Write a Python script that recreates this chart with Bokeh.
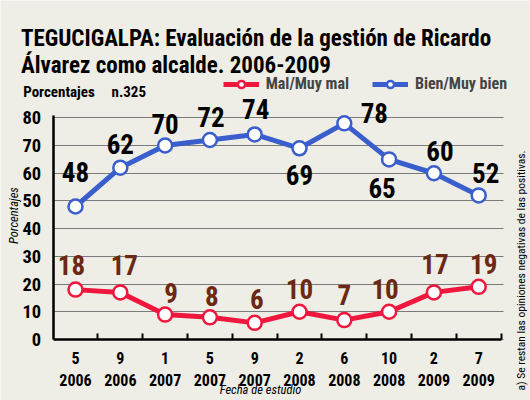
import math
from bokeh.plotting import figure
from bokeh.models import (ColumnDataSource, FixedTicker, Label, LabelSet, Legend,
                          LegendItem, Range1d)
from bokeh.core.properties import value
from bokeh.embed import file_html
from bokeh.resources import INLINE

# ---------------- data ----------------
fechas = ["5\n2006", "9\n2006", "1\n2007", "5\n2007", "9\n2007",
          "2\n2008", "6\n2008", "10\n2008", "2\n2009", "7\n2009"]
bien = [48, 62, 70, 72, 74, 69, 78, 65, 60, 52]
mal = [18, 17, 9, 8, 6, 10, 7, 10, 17, 19]
y_ticks = [0, 10, 20, 30, 40, 50, 60, 70, 80]

# label placement (screen px offsets, style only)
bien_dx = [0, 0, 0, 1, 1, 0, 30, -7, 6, 7]
bien_dy = [34, 24, 22, 23, 25, -27, 10, -29, 22, 22]
mal_dx = [-4, 4, 6, 2, 2, 0, 0, -4, 1, 5]
mal_dy = [25, 27, 22, 21, 24, 23, 25, 23, 28, 23]

BG = "#eeede6"
BLUE = "#3a5fcd"
RED = "#f0173f"
BROWN = "#6b2812"
FONT = "Roboto Condensed"

W, H = 530, 400
X_PX, X0 = 44.8, 75.0      # px per category, canvas x of first category
Y_PX, Y0 = 2.771, 61.0     # px per percent, canvas px of 0 from bottom
x_lo, x_hi = -0.5, 9.5     # extent of the drawn chart area

xs = list(range(len(fechas)))

p = figure(width=W, height=H,
           x_range=Range1d(-X0 / X_PX, (W - X0) / X_PX),
           y_range=Range1d(-Y0 / Y_PX, (H - Y0) / Y_PX),
           output_backend="svg", toolbar_location=None, min_border=0,
           background_fill_color=BG, border_fill_color=BG, outline_line_color=None)

# axes placed inside the (full-canvas) frame
p.xaxis.fixed_location = 0
p.xaxis.bounds = (x_lo, x_hi)
p.xaxis.ticker = FixedTicker(ticks=xs, minor_ticks=[i + 0.5 for i in xs])
p.xaxis.major_label_overrides = {i: f for i, f in zip(xs, fechas)}
p.xaxis.major_tick_line_color = None
p.xaxis.minor_tick_in = 6
p.xaxis.minor_tick_out = 0
p.xaxis.minor_tick_line_color = "black"
p.xaxis.minor_tick_line_width = 2
p.xaxis.axis_line_color = "black"
p.xaxis.axis_line_width = 2.5
p.xaxis.major_label_text_font = FONT
p.xaxis.major_label_text_font_style = "bold"
p.xaxis.major_label_text_font_size = "16px"
p.xaxis.major_label_text_color = "black"
p.xaxis.major_label_standoff = 3

p.yaxis.fixed_location = x_lo
p.yaxis.bounds = (0, 81)
p.yaxis.ticker = FixedTicker(ticks=y_ticks)
p.yaxis.major_tick_line_color = None
p.yaxis.minor_tick_line_color = None
p.yaxis.axis_line_color = "black"
p.yaxis.axis_line_width = 2.5
p.yaxis.major_label_text_font = FONT
p.yaxis.major_label_text_font_style = "bold"
p.yaxis.major_label_text_font_size = "18.5px"
p.yaxis.major_label_text_color = "black"
p.yaxis.major_label_standoff = 6

p.xgrid.visible = False
p.ygrid.grid_line_color = "#7a7a7a"
p.ygrid.grid_line_width = 1.2
p.ygrid.cross_bounds = (x_lo, x_hi + 0.06)

# series
rl = p.line(xs, mal, line_color=RED, line_width=5)
rs = p.scatter(xs, mal, size=14, fill_color="white", line_color=RED, line_width=2.5)
bl = p.line(xs, bien, line_color=BLUE, line_width=5)
bs = p.scatter(xs, bien, size=14, fill_color="white", line_color=BLUE, line_width=2.5)

src_b = ColumnDataSource(dict(x=xs, y=bien, t=[str(v) for v in bien], dx=bien_dx, dy=bien_dy))
src_m = ColumnDataSource(dict(x=xs, y=mal, t=[str(v) for v in mal], dx=mal_dx, dy=mal_dy))
for src, col in ((src_b, "black"), (src_m, BROWN)):
    p.add_layout(LabelSet(x="x", y="y", text="t", x_offset="dx", y_offset="dy", source=src,
                          text_font=value(FONT), text_font_style="bold", text_font_size="27px",
                          text_color=col, text_align="center", text_baseline="middle"))

# legend
legend = Legend(items=[LegendItem(label="Mal/Muy mal", renderers=[rl, rs]),
                       LegendItem(label="Bien/Muy bien", renderers=[bl, bs])],
                orientation="horizontal", location=(222.7, 307),
                glyph_width=36, glyph_height=18, label_standoff=7, spacing=23,
                padding=0, margin=0, border_line_color=None, background_fill_alpha=0,
                label_text_font=FONT, label_text_font_style="bold",
                label_text_font_size="16px", label_height=18)
p.add_layout(legend)

# texts (screen units, from the canvas bottom-left)
def lab(text, x, y, size, style="bold", align="left", baseline="alphabetic", angle=0.0):
    p.add_layout(Label(x=x, y=y, x_units="screen", y_units="screen", text=text,
                       text_font=FONT, text_font_style=style, text_font_size=size,
                       text_align=align, text_baseline=baseline, angle=angle,
                       text_color="black"))

lab("TEGUCIGALPA:  Evaluación de la gestión de Ricardo", 20.5, 361.7, "23px")
lab("Álvarez como alcalde. 2006-2009", 20.5, 335, "23px")
lab("Porcentajes", 22.7, 308.3, "15px")
lab("n.325", 111, 308.3, "15px")
lab("Porcentajes", 13, 185, "12.5px", style="italic", align="center", baseline="middle", angle=math.pi / 2)
lab("Fecha de estudio", 260, 11, "12.5px", style="italic", align="center", baseline="middle")
lab("a) Se restan las opiniones negativas de las positivas.", 520, 10, "11.5px", style="normal",
    align="left", baseline="middle", angle=math.pi / 2)

open("out.html", "w").write(file_html(p, INLINE))
